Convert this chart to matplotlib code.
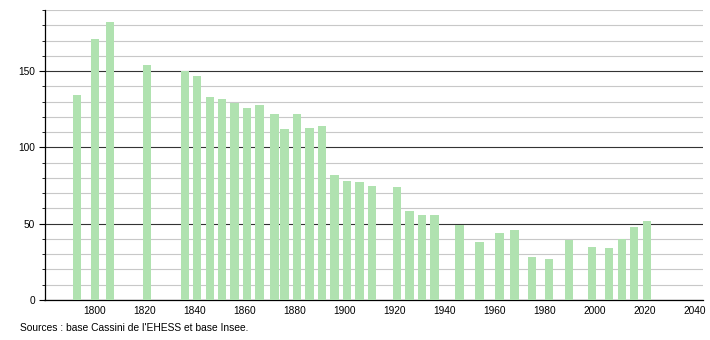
import matplotlib
matplotlib.use("Agg")
import matplotlib.pyplot as plt
from matplotlib.ticker import MultipleLocator

years = [1793, 1800, 1806, 1821, 1836, 1841, 1846, 1851, 1856, 1861, 1866, 1872,
         1876, 1881, 1886, 1891, 1896, 1901, 1906, 1911, 1921, 1926, 1931, 1936,
         1946, 1954, 1962, 1968, 1975, 1982, 1990, 1999, 2006, 2011, 2016, 2021]
population = [134, 171, 182, 154, 150, 147, 133, 132, 129, 126, 128, 122,
              112, 122, 113, 114, 82, 78, 77, 75, 74, 58, 56, 56,
              49, 38, 44, 46, 28, 27, 39, 35, 34, 40, 48, 52]
x_ticks = list(range(1800, 2041, 20))
y_ticks = [0, 50, 100, 150]
source = "Sources : base Cassini de l'EHESS et base Insee."

plt.rcParams['font.family'] = ['Liberation Sans', 'DejaVu Sans']

fig = plt.figure(figsize=(7.1, 3.4), dpi=100)
ax = fig.add_axes([44.5 / 710, 40 / 340, (703 - 44.5) / 710, 290 / 340])

ax.bar(years, population, width=3.3, color='#b0e2b0', zorder=3)

ax.set_xlim(1779.9, 2043.5)
ax.set_ylim(0, 190)
ax.set_xticks(x_ticks)
ax.set_yticks(y_ticks)
ax.yaxis.set_minor_locator(MultipleLocator(10))

ax.grid(axis='y', which='minor', color='#c8c8c8', linewidth=0.8, zorder=1)
ax.grid(axis='y', which='major', color='#333333', linewidth=0.8, zorder=2)

for s in ['top', 'right']:
    ax.spines[s].set_visible(False)
ax.spines['left'].set_color('black')
ax.spines['bottom'].set_color('black')
ax.spines['left'].set_linewidth(0.9)
ax.spines['bottom'].set_linewidth(0.9)

ax.tick_params(axis='x', length=0, labelsize=7.3, pad=4)
ax.tick_params(axis='y', which='major', length=4, labelsize=7.3, pad=3, color='black')
ax.tick_params(axis='y', which='minor', length=2, color='black')

fig.text(20 / 710, 1 - 328 / 340, source, fontsize=7.4, va='center', ha='left')

fig.savefig('out.png', dpi=100)
